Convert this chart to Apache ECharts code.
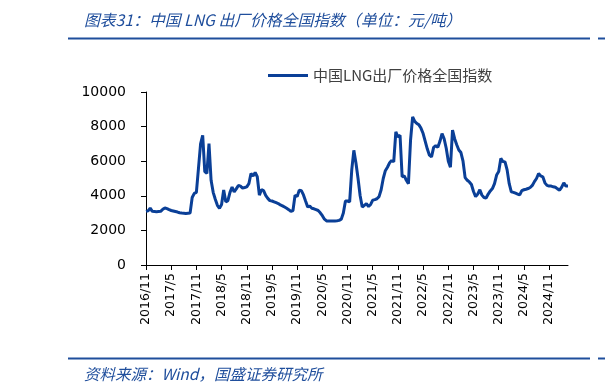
<!DOCTYPE html>
<html><head><meta charset="utf-8">
<script src="https://cdn.jsdelivr.net/npm/echarts@6/dist/echarts.min.js"></script>
<style>html,body{margin:0;padding:0;background:#fff}#c{width:605px;height:389px}</style>
</head><body><div id="c"></div>
<script>
// Semi-monthly observations from 2016/11 to 2025/03
const startYear = 2016, startMonth = 11;
const values = [
3100,3130,3290,3100,3090,3080,3090,3100,3220,3300,
3260,3200,3150,3120,3090,3060,3020,3000,2990,2980,
2990,3000,3900,4140,4200,5600,7000,7500,5400,5300,
7020,4900,4200,3800,3450,3280,3500,4330,3650,3720,
4200,4500,4230,4400,4600,4560,4450,4480,4520,4700,
5290,5150,5350,5100,4040,4350,4300,4020,3850,3720,
3700,3650,3600,3550,3470,3420,3350,3280,3200,3100,
3150,4040,3950,4330,4300,4050,3700,3360,3400,3280,
3250,3200,3150,3020,2850,2650,2550,2540,2540,2550,
2550,2560,2580,2650,3000,3700,3700,3650,5500,6630,
5900,5000,4000,3350,3450,3550,3380,3500,3750,3780,
3830,3950,4350,5000,5450,5650,5900,6050,5960,7700,
7400,7500,5100,5150,4900,4700,7200,8560,8300,8180,
8100,7900,7600,7150,6700,6350,6250,6800,6900,6800,
7150,7600,7300,6750,6000,5650,7800,7300,6950,6650,
6500,6000,5050,4900,4800,4650,4250,3950,4100,4350,
4040,3900,3870,4100,4280,4420,4700,5200,5400,6160,
5980,5960,5500,4700,4230,4200,4150,4100,4050,4300,
4350,4380,4420,4480,4600,4820,5000,5290,5150,5100,
4750,4600,4560,4560,4520,4490,4400,4330,4500,4750,
4560,4560
];
const seriesName = '中国LNG出厂价格全国指数';
const yTicks = [0, 2000, 4000, 6000, 8000, 10000];
const labelMonths = [5, 11];
const titleText = '图表31：中国 LNG 出厂价格全国指数（单位：元/吨）';
const sourceText = '资料来源：Wind，国盛证券研究所';

const categories = values.map((v, i) => {
  const m0 = startMonth - 1 + Math.floor(i / 2);
  const y = startYear + Math.floor(m0 / 12);
  const m = (m0 % 12) + 1;
  const d = i % 2 === 0 ? '01' : '15';
  return y + '/' + m + '/' + d;
});
const showTick = (idx, val) => {
  const p = String(val).split('/');
  return p[2] === '01' && labelMonths.indexOf(+p[1]) >= 0;
};

const blue = '#0a3f97';
const chart = echarts.init(document.getElementById('c'), null, {renderer: 'canvas'});
chart.setOption({
  animation: false,
  backgroundColor: '#fff',
  title: [
    {text: titleText, left: 79, top: 7,
     textStyle: {fontFamily: 'Noto Sans CJK SC', fontStyle: 'italic', fontWeight: 'normal', fontSize: 15.8, color: '#1f4e9c'}},
    {text: sourceText, left: 79, top: 361,
     textStyle: {fontFamily: 'Noto Sans CJK SC', fontStyle: 'italic', fontWeight: 'normal', fontSize: 15.5, color: '#1f4e9c'}}
  ],
  graphic: [
    {type: 'line', shape: {x1: 68, y1: 38.5, x2: 590, y2: 38.5}, style: {stroke: '#1f4e9c', lineWidth: 2}},
    {type: 'line', shape: {x1: 598, y1: 38.5, x2: 605, y2: 38.5}, style: {stroke: '#1f4e9c', lineWidth: 2}},
    {type: 'line', shape: {x1: 68, y1: 358.5, x2: 590, y2: 358.5}, style: {stroke: '#1f4e9c', lineWidth: 2}},
    {type: 'line', shape: {x1: 598, y1: 358.5, x2: 605, y2: 358.5}, style: {stroke: '#1f4e9c', lineWidth: 2}}
  ],
  legend: {
    data: [seriesName], left: 263, top: 63, itemWidth: 40, itemHeight: 3, itemGap: 5,
    icon: 'rect',
    textStyle: {fontFamily: 'Noto Sans CJK SC', fontSize: 15, color: '#404040'}
  },
  grid: {left: 146, right: 37, top: 92, bottom: 124, containLabel: false},
  xAxis: {
    type: 'category', data: categories, boundaryGap: false,
    axisLine: {lineStyle: {color: '#000', width: 1}},
    axisTick: {show: true, interval: showTick, length: 5, lineStyle: {color: '#000'}},
    axisLabel: {interval: showTick, rotate: 90, margin: 8, fontFamily: 'DejaVu Sans', fontSize: 12.5, color: '#000',
      formatter: v => { const p = v.split('/'); return p[0] + '/' + p[1]; }},
    splitLine: {show: false}
  },
  yAxis: {
    type: 'value', min: yTicks[0], max: yTicks[yTicks.length - 1], interval: yTicks[1] - yTicks[0],
    axisLine: {show: true, lineStyle: {color: '#000', width: 1}},
    axisTick: {show: true, length: 5, lineStyle: {color: '#000'}},
    axisLabel: {margin: 20, fontFamily: 'DejaVu Sans', fontSize: 14, color: '#000', formatter: v => String(v)},
    splitLine: {show: false}
  },
  series: [{
    name: seriesName, type: 'line', data: values, showSymbol: false, symbol: 'none',
    lineStyle: {color: blue, width: 3}, itemStyle: {color: blue}
  }]
});
</script></body></html>
